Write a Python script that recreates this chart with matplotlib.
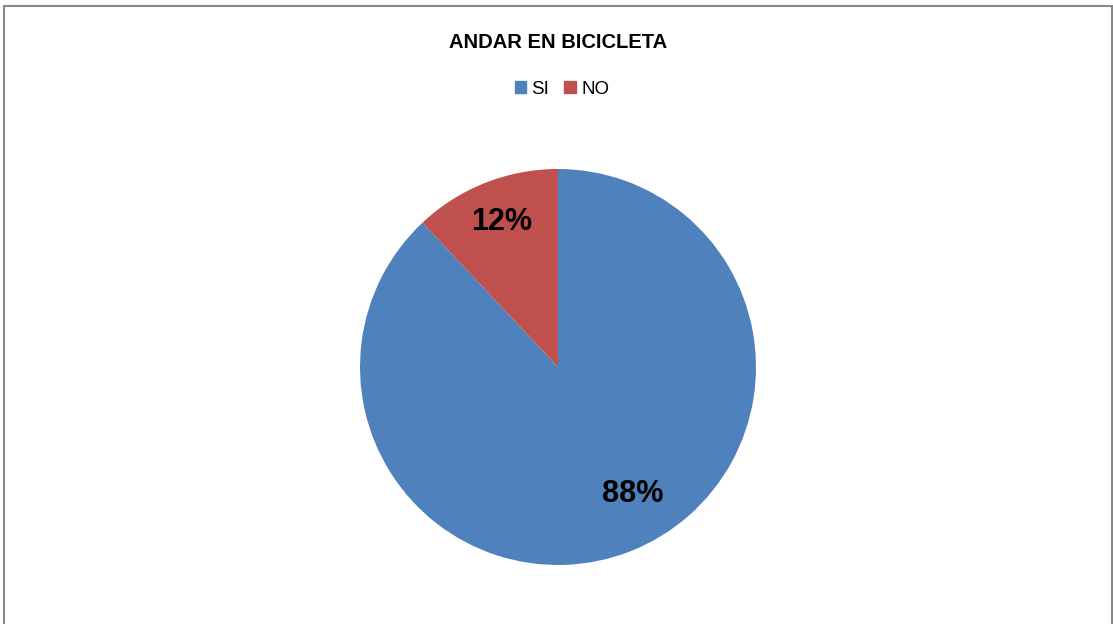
import matplotlib.pyplot as plt
import numpy as np
from matplotlib.patches import Rectangle

plt.rcParams['font.family'] = ['Liberation Sans', 'DejaVu Sans']

# data
labels = ['SI', 'NO']
values = [88, 12]
colors = ['#4F81BD', '#C0504D']
title = 'ANDAR EN BICICLETA'

W, H = 1113, 624
fig = plt.figure(figsize=(W / 100, H / 100), dpi=100)

# pie axes: centre (558, 367), radius 198 px
cx, cy, r = 558, 367, 198
ax = fig.add_axes([(cx - r) / W, (H - cy - r) / H, 2 * r / W, 2 * r / H])
wedges, texts, autotexts = ax.pie(values, colors=colors, startangle=90, counterclock=False,
                                  autopct='%1.0f%%', pctdistance=0.78,
                                  wedgeprops=dict(linewidth=0),
                                  textprops=dict(fontsize=22, fontweight='bold', color='black'))
ax.set_aspect('equal')
ax.set_xlim(-1, 1)
ax.set_ylim(-1, 1)

# excel "best fit" puts the big label a bit off the mid angle
label_polar = [(-59.4, 0.745), (111.1, 0.785)]
for t, (ang, dist) in zip(autotexts, label_polar):
    a = np.deg2rad(ang)
    t.set_position((dist * np.cos(a), dist * np.sin(a)))

fig.text(cx / W, 1 - 42 / H, title, ha='center', va='center', fontsize=14.5, fontweight='bold')

handles = [plt.Rectangle((0, 0), 1, 1, color=c) for c in colors]
fig.legend(handles, labels, loc='center', bbox_to_anchor=(562 / W, 1 - 89 / H), ncol=2,
           frameon=False, fontsize=13.5, handlelength=0.6, handleheight=0.6,
           handletextpad=0.3, columnspacing=0.8)

# chart border
fig.patches.append(Rectangle((4 / W, -0.05), (1112 - 4) / W, 1.05 - 6 / H, transform=fig.transFigure,
                             fill=False, edgecolor='#888888', linewidth=1.5))

fig.savefig('out.png', dpi=100)
